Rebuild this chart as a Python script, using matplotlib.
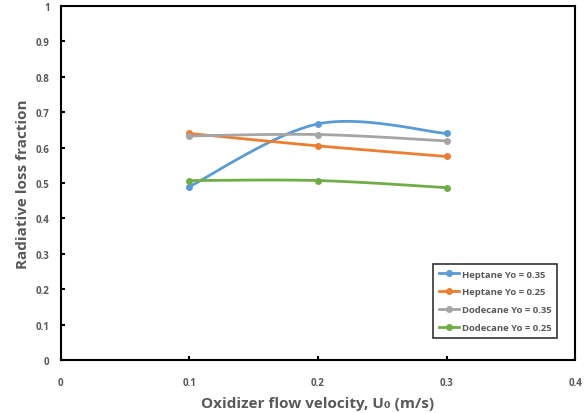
import matplotlib
matplotlib.use("Agg")
import matplotlib.pyplot as plt
import numpy as np

# datos
velocity = [0.1, 0.2, 0.3]
heptane_035 = [0.490, 0.667, 0.640]
heptane_025 = [0.640, 0.605, 0.575]
dodecane_035 = [0.633, 0.637, 0.619]
dodecane_025 = [0.507, 0.507, 0.487]
labels = ["Heptane Yo = 0.35", "Heptane Yo = 0.25",
          "Dodecane Yo = 0.35", "Dodecane Yo = 0.25"]
colors = ["#5B9BD5", "#ED7D31", "#A5A5A5", "#70AD47"]


def smooth(x, y, n=40):
    ''' curva suavizada tipo Excel (Bezier con tangentes Catmull-Rom) '''
    x = np.asarray(x, float)
    y = np.asarray(y, float)
    px, py = [], []
    for i in range(len(x) - 1):
        x0, y0 = (x[i - 1], y[i - 1]) if i > 0 else (x[i], y[i])
        x3, y3 = (x[i + 2], y[i + 2]) if i + 2 < len(x) else (x[i + 1], y[i + 1])
        c1x = x[i] + (x[i + 1] - x0) / 6
        c1y = y[i] + (y[i + 1] - y0) / 6
        c2x = x[i + 1] - (x3 - x[i]) / 6
        c2y = y[i + 1] - (y3 - y[i]) / 6
        t = np.linspace(0, 1, n)
        px.extend((1 - t)**3 * x[i] + 3 * (1 - t)**2 * t * c1x + 3 * (1 - t) * t**2 * c2x + t**3 * x[i + 1])
        py.extend((1 - t)**3 * y[i] + 3 * (1 - t)**2 * t * c1y + 3 * (1 - t) * t**2 * c2y + t**3 * y[i + 1])
    return px, py


plt.rcParams['font.family'] = ['Open Sans', 'DejaVu Sans']

fig = plt.figure(figsize=(5.85, 4.14), dpi=100)
ax = fig.add_axes([0.104, 0.128, 0.879, 0.855])

series = [heptane_035, heptane_025, dodecane_035, dodecane_025]
for vals, lab, col in zip(series, labels, colors):
    sx, sy = smooth(velocity, vals)
    ax.plot(sx, sy, color=col, lw=2, zorder=3)
    ax.plot(velocity, vals, 'o', color=col, ms=4, zorder=4)
    ax.plot([], [], '-o', color=col, lw=2, ms=4, label=lab)

ax.set_xlim(0, 0.4)
ax.set_ylim(0, 1)
ax.set_xticks([0, 0.1, 0.2, 0.3, 0.4])
ax.set_xticklabels(["0", "0.1", "0.2", "0.3", "0.4"])
ax.set_yticks(np.arange(0, 1.01, 0.1))
ax.set_yticklabels(["0", "0.1", "0.2", "0.3", "0.4", "0.5", "0.6", "0.7", "0.8", "0.9", "1"])
ax.tick_params(direction='in', length=3, width=1.5, labelsize=7, labelcolor='#595959', pad=8)
ax.tick_params(axis='x', pad=12)
for lbl in ax.get_xticklabels() + ax.get_yticklabels():
    lbl.set_fontweight('bold')
for sp in ax.spines.values():
    sp.set_linewidth(1.5)
    sp.set_color('black')

ax.set_xlabel("Oxidizer flow velocity, U\u2080 (m/s)", fontsize=11, fontweight='bold', color='#595959', labelpad=6)
ax.set_ylabel("Radiative loss fraction", fontsize=11, fontweight='bold', color='#595959')

leg = ax.legend(loc='upper right', bbox_to_anchor=(0.975, 0.285),
                fontsize=6.8, frameon=True, fancybox=False, edgecolor='black',
                handlelength=2.2, borderpad=0.6, labelspacing=0.95, handletextpad=0.3)
leg.get_frame().set_linewidth(1.2)
for t in leg.get_texts():
    t.set_fontweight('bold')
    t.set_color('#595959')

fig.savefig("out.png", dpi=100)
